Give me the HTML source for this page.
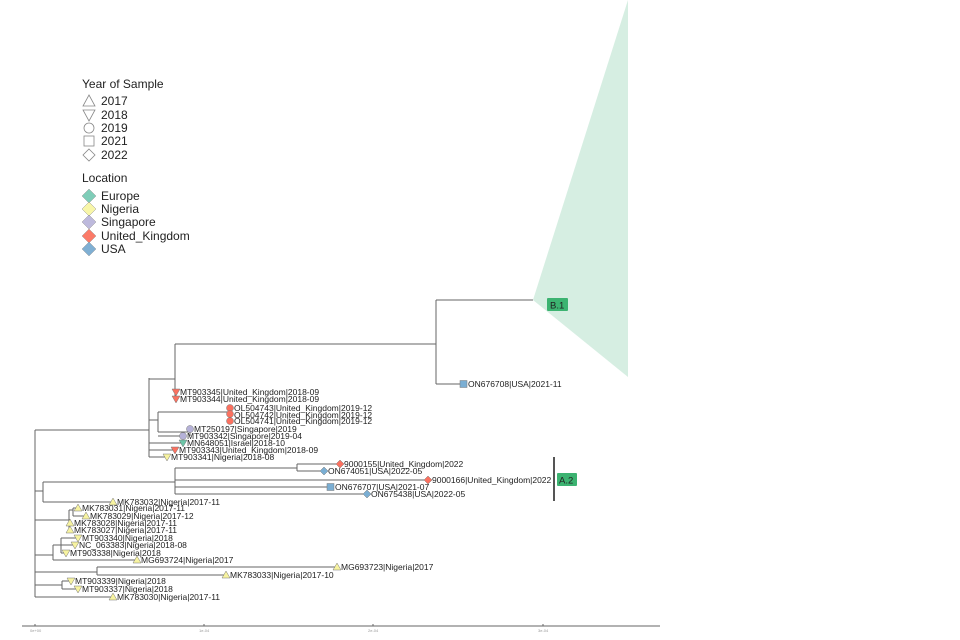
<!DOCTYPE html>
<html><head><meta charset="utf-8"><style>
html,body{margin:0;padding:0;background:#fff;width:960px;height:640px;overflow:hidden}
svg{display:block}
text{font-family:"Liberation Sans",sans-serif}
.t{font-size:8.5px;fill:#222}
.l{font-size:12px;fill:#222}
</style></head><body>
<svg width="960" height="640" viewBox="0 0 960 640" xmlns="http://www.w3.org/2000/svg">
<polygon points="533,300 628,0 628,377" fill="#d6eee2"/>
<g stroke="#666" stroke-width="1" fill="none">
<path d="M35,430V597"/>
<path d="M35,430H149M149,378V457"/>
<path d="M149,379H175M175,344V399M175,344H436M436,300V384M436,300H533M436,384H464"/>
<path d="M175,392H176M175,399H176"/>
<path d="M149,420H158M158,412V432M158,412H230M230,408V421M158,432H190M190,429V436M190,429H190"/>
<path d="M149,443H183M149,450H175M149,457H167M158,436H183"/>
<path d="M35,491H43M43,482V502M43,502H113M43,482H175M175,468V494M175,468H297M297,464V471M297,464H340M297,471H324M175,480H428M175,487H330M175,494H367"/>
<path d="M35,520H69M69,510V530M69,510H73M73,508V516M73,508H78M73,516H86M69,523H70M69,530H70"/>
<path d="M35,555H53M53,545V560M53,545H61M61,538V553M61,538H78M61,545H75M61,553H66M53,560H137"/>
<path d="M35,572H97M97,567V575M97,567H337M97,575H226"/>
<path d="M35,585H62M62,581V589M62,581H71M62,589H78M35,597H113"/>
<path d="M22,626H660M35,624V626M204,624V626M373,624V626M543,624V626"/>
</g>
<g fill="#999" font-family="Liberation Sans">
<text x="30" y="632" style="font-size:4px">0e+00</text><text x="199" y="632" style="font-size:4px">1e-04</text><text x="368" y="632" style="font-size:4px">2e-04</text><text x="538" y="632" style="font-size:4px">3e-04</text>
</g>
<g stroke="#777" stroke-width="0.5">
<g fill="#fb7160">
<polygon points="172,389 180,389 176,396"/>
<polygon points="172,396 180,396 176,403"/>
<polygon points="171,447 179,447 175,454"/>
<circle cx="230" cy="408" r="3.5"/><circle cx="230" cy="414" r="3.5"/><circle cx="230" cy="421" r="3.5"/>
<polygon points="340,460 344,464 340,468 336,464"/>
<polygon points="428,476 432,480 428,484 424,480"/>
</g>
<g fill="#b5b1d8"><circle cx="190" cy="429" r="3.5"/><circle cx="183" cy="436" r="3.5"/></g>
<polygon fill="#6cc6a8" points="179,440 187,440 183,447"/>
<g fill="#f7f3a0">
<polygon points="163,454 171,454 167,461"/>
<polygon points="113,498 117,505 109,505"/>
<polygon points="78,504 82,511 74,511"/>
<polygon points="86,512 90,519 82,519"/>
<polygon points="70,519 74,526 66,526"/>
<polygon points="70,526 74,533 66,533"/>
<polygon points="74,535 82,535 78,542"/>
<polygon points="71,542 79,542 75,549"/>
<polygon points="62,550 70,550 66,557"/>
<polygon points="137,556 141,563 133,563"/>
<polygon points="337,563 341,570 333,570"/>
<polygon points="226,571 230,578 222,578"/>
<polygon points="67,578 75,578 71,585"/>
<polygon points="74,586 82,586 78,593"/>
<polygon points="113,593 117,600 109,600"/>
</g>
<g fill="#7aaed3">
<rect x="460" y="380.5" width="7" height="7"/>
<rect x="327" y="483.5" width="7" height="7"/>
<polygon points="324,467 328,471 324,475 320,471"/>
<polygon points="367,490 371,494 367,498 363,494"/>
</g>
</g>
<g class="t">
<text x="180" y="395">MT903345|United_Kingdom|2018-09</text>
<text x="180" y="402">MT903344|United_Kingdom|2018-09</text>
<text x="234" y="411">OL504743|United_Kingdom|2019-12</text>
<text x="234" y="418">OL504742|United_Kingdom|2019-12</text>
<text x="234" y="424">OL504741|United_Kingdom|2019-12</text>
<text x="194" y="432">MT250197|Singapore|2019</text>
<text x="187" y="439">MT903342|Singapore|2019-04</text>
<text x="187" y="446">MN648051|Israel|2018-10</text>
<text x="179" y="453">MT903343|United_Kingdom|2018-09</text>
<text x="171" y="460">MT903341|Nigeria|2018-08</text>
<text x="468" y="387">ON676708|USA|2021-11</text>
<text x="344" y="467">9000155|United_Kingdom|2022</text>
<text x="328" y="474">ON674051|USA|2022-05</text>
<text x="432" y="483">9000166|United_Kingdom|2022</text>
<text x="335" y="490">ON676707|USA|2021-07</text>
<text x="371" y="497">ON675438|USA|2022-05</text>
<text x="117" y="505">MK783032|Nigeria|2017-11</text>
<text x="82" y="511">MK783031|Nigeria|2017-11</text>
<text x="90" y="519">MK783029|Nigeria|2017-12</text>
<text x="74" y="526">MK783028|Nigeria|2017-11</text>
<text x="74" y="533">MK783027|Nigeria|2017-11</text>
<text x="82" y="541">MT903340|Nigeria|2018</text>
<text x="79" y="548">NC_063383|Nigeria|2018-08</text>
<text x="70" y="556">MT903338|Nigeria|2018</text>
<text x="141" y="563">MG693724|Nigeria|2017</text>
<text x="341" y="570">MG693723|Nigeria|2017</text>
<text x="230" y="578">MK783033|Nigeria|2017-10</text>
<text x="75" y="584">MT903339|Nigeria|2018</text>
<text x="82" y="592">MT903337|Nigeria|2018</text>
<text x="117" y="600">MK783030|Nigeria|2017-11</text>
</g>
<rect x="547" y="298" width="21" height="13" fill="#3cb371" rx="1"/>
<text x="550" y="308.5" style="font-size:9.5px;fill:#222">B.1</text>
<rect x="553" y="457" width="2" height="44" fill="#555"/>
<rect x="557" y="473" width="20" height="13" fill="#3cb371" rx="1"/>
<text x="559" y="483.5" style="font-size:9.5px;fill:#222">A.2</text>
<text class="l" x="82" y="88">Year of Sample</text>
<g fill="none" stroke="#888" stroke-width="0.8">
<polygon points="89,95 95,106 83,106"/>
<polygon points="83,110 95,110 89,121"/>
<circle cx="89" cy="128" r="5"/>
<rect x="84" y="136" width="10" height="10"/>
<polygon points="89,149 95,155 89,161 83,155"/>
</g>
<g class="l">
<text x="101" y="105">2017</text><text x="101" y="119">2018</text><text x="101" y="132">2019</text><text x="101" y="145">2021</text><text x="101" y="159">2022</text>
<text x="82" y="182">Location</text>
<text x="101" y="200">Europe</text><text x="101" y="213">Nigeria</text><text x="101" y="226">Singapore</text><text x="101" y="240">United_Kingdom</text><text x="101" y="253">USA</text>
</g>
<g stroke="#999" stroke-width="0.5">
<polygon fill="#7fcdb8" points="89,189 96,196 89,203 82,196"/>
<polygon fill="#f8f6a8" points="89,202 96,209 89,216 82,209"/>
<polygon fill="#bdb9dc" points="89,215 96,222 89,229 82,222"/>
<polygon fill="#fb7a68" points="89,229 96,236 89,243 82,236"/>
<polygon fill="#7fafd3" points="89,242 96,249 89,256 82,249"/>
</g>
</svg>
</body></html>
